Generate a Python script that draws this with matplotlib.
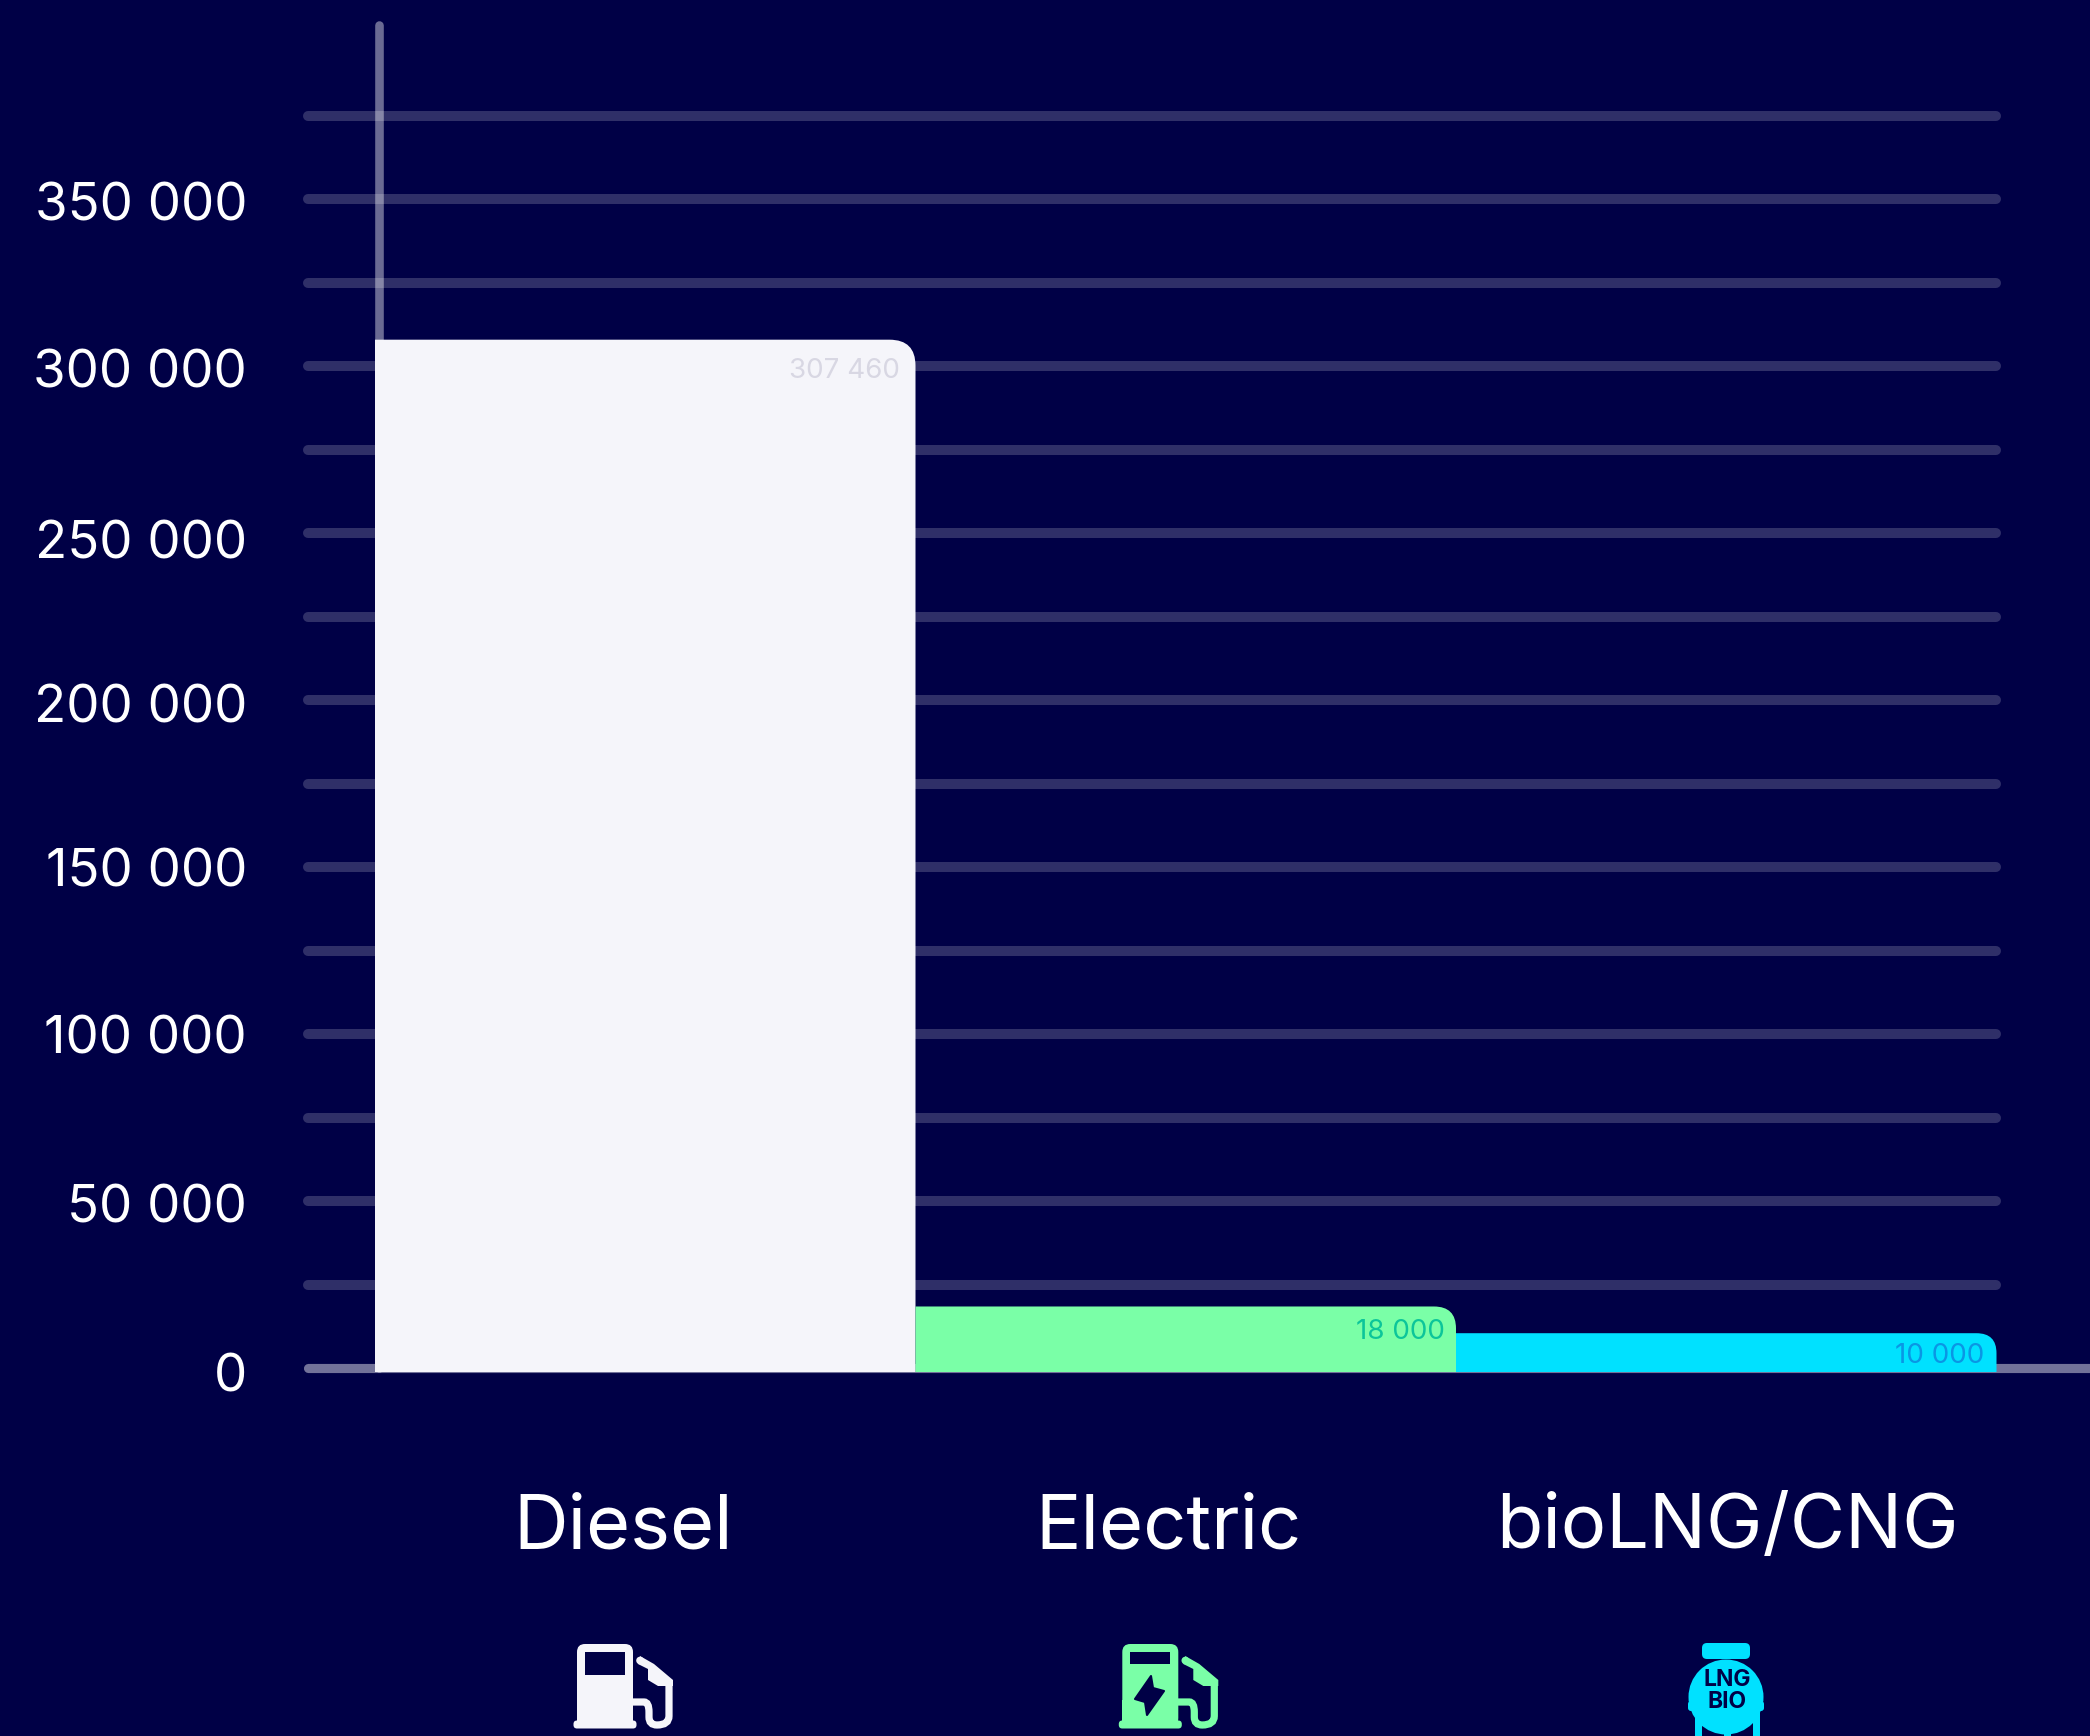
import matplotlib
matplotlib.use('Agg')
import matplotlib.pyplot as plt
from matplotlib.patches import PathPatch, Circle, FancyBboxPatch, Rectangle, Polygon
from matplotlib.path import Path
from matplotlib.transforms import Affine2D, ScaledTranslation

plt.rcParams['font.family'] = ['Inter', 'DejaVu Sans']

categories = ['Diesel', 'Electric', 'bioLNG/CNG']
values = [307460, 18000, 10000]
value_labels = ['307 460', '18 000', '10 000']
tick_values = [0, 50000, 100000, 150000, 200000, 250000, 300000, 350000]
tick_labels = ['0', '50 000', '100 000', '150 000', '200 000', '250 000', '300 000', '350 000']
grid_values = [25000, 50000, 75000, 100000, 125000, 150000, 175000, 200000, 225000,
               250000, 275000, 300000, 325000, 350000, 375000]

bar_colors = ['#f5f5fa', '#7affa7', '#00e1ff']
text_colors = ['#d8d7e3', '#0cc59a', '#0a96e4']
corner_px = [26, 22, 20]
BG = '#000046'

W, H = 2090, 1736
PX_PER_STEP = 83.5          # pixels between two gridlines
VAL_PER_PX = 25000 / PX_PER_STEP
ZERO_PX = 1368.4
BAR_W_PX = 540.5
FIRST_CENTER_PX = 645.25

fig = plt.figure(figsize=(W / 100, H / 100), dpi=100, facecolor=BG)
ax = fig.add_axes([0, 0, 1, 1], facecolor=BG)
ax.set_xlim(-FIRST_CENTER_PX / BAR_W_PX, (W - FIRST_CENTER_PX) / BAR_W_PX)
ax.set_ylim(-(H - ZERO_PX) * VAL_PER_PX, ZERO_PX * VAL_PER_PX)
for s in ax.spines.values():
    s.set_visible(False)


def px_x(p):
    return (p - FIRST_CENTER_PX) / BAR_W_PX


# gridlines + axis lines
ax.hlines(grid_values, px_x(308), px_x(1996), color='white', alpha=0.19, lw=7.2, capstyle='round', zorder=1)
ax.hlines([0], px_x(308), px_x(2100), color='white', alpha=0.45, lw=6.6, capstyle='round', zorder=1)
ax.vlines([px_x(379)], 0, (ZERO_PX - 25) * VAL_PER_PX, color='white', alpha=0.42, lw=6.2, capstyle='round', zorder=1)

# bars, only top right corner is rounded
base = -3.6 * VAL_PER_PX
for i, v in enumerate(values):
    top = v + 1.8 * VAL_PER_PX
    l, r = i - 0.5, i + 0.5
    rx = corner_px[i] / BAR_W_PX
    ry = corner_px[i] * VAL_PER_PX
    verts = [(l, base), (l, top), (r - rx, top), (r, top), (r, top - ry), (r, base), (l, base)]
    codes = [Path.MOVETO, Path.LINETO, Path.LINETO, Path.CURVE3, Path.CURVE3, Path.LINETO, Path.CLOSEPOLY]
    ax.add_patch(PathPatch(Path(verts, codes), fc=bar_colors[i], ec='none', zorder=2))

# value labels
label_right = [900, 1445, 1984]
label_drop = [31.5, 26, 23]
for i, v in enumerate(values):
    ax.annotate(value_labels[i], xy=(px_x(label_right[i]), v + 1.8 * VAL_PER_PX),
                xytext=(0, -label_drop[i] * 0.72), textcoords='offset points',
                ha='right', va='center', fontsize=20, color=text_colors[i], zorder=3)

# y ticks sit inside the full figure axes
ax.set_yticks(tick_values)
ax.set_yticklabels(tick_labels)
ax.tick_params(axis='y', length=0, pad=-247 * 0.72, labelsize=38, labelcolor='white')
tick_nudge = [4, 2, 0, 0, 3, 6, 2, 2]   # labels are not evenly spaced in the original
for lab, n in zip(ax.get_yticklabels(), tick_nudge):
    lab.set_transform(lab.get_transform() + ScaledTranslation(0, -n / 100, fig.dpi_scale_trans))

# category labels are not quite centred under the bars
cat_x = [623, 1168, 1727]
ax.set_xticks([px_x(c) for c in cat_x])
ax.set_xticklabels(categories)
ax.tick_params(axis='x', length=0, pad=-(H - 1529) * 0.72, labelsize=54.5, labelcolor='white')
for lab in ax.get_xticklabels():
    lab.set_verticalalignment('center')

# icons, in figure pixels with y pointing down
px = Affine2D().scale(1, -1).translate(0, H)


def shifted(dx, dy=0):
    return Affine2D().translate(dx, dy) + px


def pump(dx, color):
    t = shifted(dx)
    ax.add_patch(FancyBboxPatch((585, 1652), 40, 66, boxstyle='round,pad=8,rounding_size=8',
                                fc=color, ec='none', transform=t, zorder=3))
    ax.add_patch(Rectangle((577, 1700), 56, 22, fc=color, ec='none', transform=t, zorder=3))
    ax.add_patch(FancyBboxPatch((577, 1724), 56, 1, boxstyle='round,pad=3.5,rounding_size=3.5',
                                fc=color, ec='none', transform=t, zorder=3))
    hose = Path([(632, 1702), (644, 1702), (649, 1702), (649, 1712), (649, 1717), (649, 1725), (657, 1725),
                 (669, 1725), (669, 1716), (669, 1680)],
                [Path.MOVETO, Path.LINETO, Path.CURVE3, Path.CURVE3, Path.LINETO, Path.CURVE3, Path.CURVE3,
                 Path.CURVE3, Path.CURVE3, Path.LINETO])
    ax.add_patch(PathPatch(hose, fc='none', ec=color, lw=5.2, capstyle='butt', transform=t, zorder=3))
    ax.add_patch(Polygon([(640, 1656), (654, 1664), (673, 1680), (673, 1686), (658, 1686),
                          (648, 1680), (648, 1669), (638, 1664)],
                         fc=color, ec='none', transform=t, zorder=3))
    ax.add_patch(Circle((640, 1660.5), 3.8, fc=color, ec='none', transform=t, zorder=3))


pump(0, bar_colors[0])
ax.add_patch(Rectangle((585, 1652), 40, 23, fc=BG, ec='none', transform=px, zorder=4))

pump(545.3, bar_colors[1])
ax.add_patch(Rectangle((1130, 1652), 40, 12, fc=BG, ec='none', transform=px, zorder=4))
ax.add_patch(Polygon([(1151, 1676), (1135, 1699), (1145, 1702), (1147, 1715), (1164, 1691), (1153, 1688)],
                     fc=BG, ec=BG, lw=1.5, joinstyle='round', transform=px, zorder=4))

# biogas tank
c = bar_colors[2]
ax.add_patch(FancyBboxPatch((1706, 1647), 40, 8, boxstyle='round,pad=4,rounding_size=5',
                            fc=c, ec='none', transform=px, zorder=3))
ax.add_patch(Circle((1726, 1697), 37.5, fc=c, ec='none', transform=px, zorder=3))
ax.add_patch(FancyBboxPatch((1691, 1704), 70, 4, boxstyle='round,pad=3,rounding_size=3',
                            fc=c, ec='none', transform=px, zorder=3))
for lx, ly in [(1698, 1712), (1727, 1725), (1756, 1712)]:
    ax.add_patch(Rectangle((lx - 3.5, ly), 7, 1740 - ly, fc=c, ec='none', transform=px, zorder=3))
ax.text(1727, 1680, 'LNG', transform=px, ha='center', va='center', fontsize=16.5, fontweight='bold', color=BG, zorder=4)
ax.text(1727, 1702, 'BIO', transform=px, ha='center', va='center', fontsize=16.5, fontweight='bold', color=BG, zorder=4)

fig.savefig('out.png', dpi=100, facecolor=BG)
